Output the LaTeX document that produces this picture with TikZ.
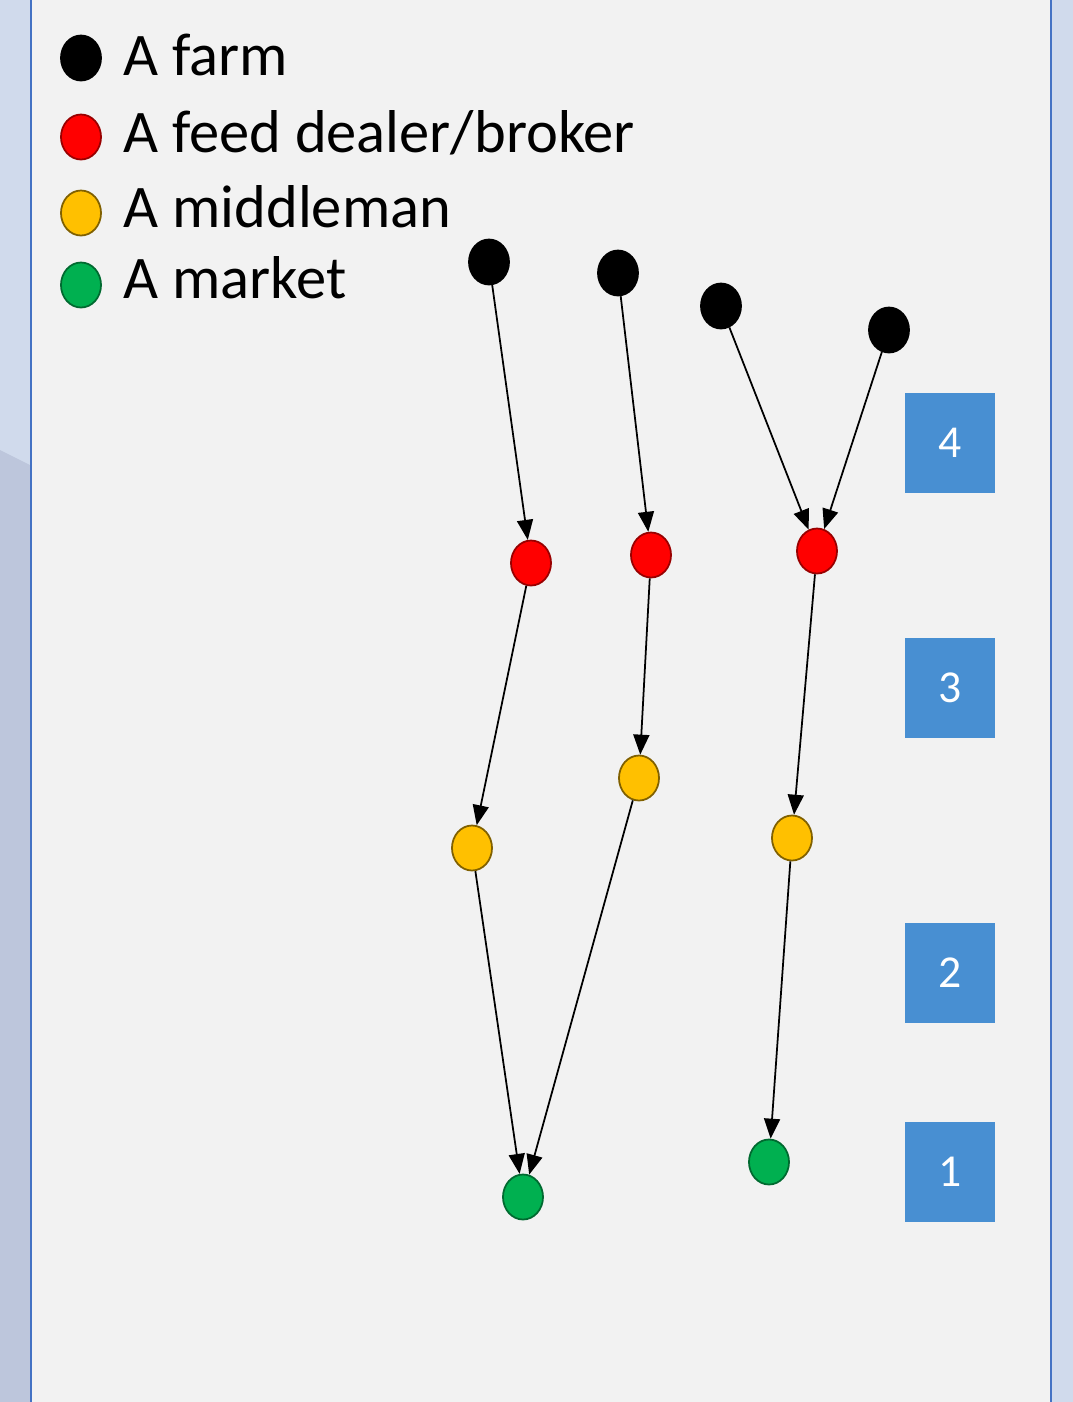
\documentclass[tikz,border=0pt]{standalone}
\usepackage{fontspec}
\setmainfont{Carlito}
\usetikzlibrary{arrows.meta,shapes.geometric}
\definecolor{panelgray}{RGB}{242,242,242}
\definecolor{sidelight}{RGB}{208,218,236}
\definecolor{sidedark}{RGB}{189,198,220}
\definecolor{edgeblue}{RGB}{68,114,196}
\definecolor{boxblue}{RGB}{72,143,210}
\definecolor{dealerred}{RGB}{255,0,0}
\definecolor{midyellow}{RGB}{255,192,0}
\definecolor{marketgreen}{RGB}{0,176,80}

\begin{document}
\begin{tikzpicture}[x=0.01cm,y=-0.01cm,
  dot/.style={ellipse,inner sep=0pt,minimum width=0.4cm,minimum height=0.45cm,line width=0.5pt},
  farm/.style={dot,fill=black,draw=black},
  dealer/.style={dot,fill=dealerred,draw=dealerred!60!black},
  middle/.style={dot,fill=midyellow,draw=midyellow!50!black},
  market/.style={dot,fill=marketgreen,draw=marketgreen!60!black},
  flow/.style={-{Triangle[length=0.2cm,width=0.16cm]},line width=0.5pt},
  level/.style={fill=boxblue,text=white,minimum width=0.9cm,minimum height=1cm,inner sep=0pt,font=\fontsize{13}{13}\selectfont},
  legend/.style={anchor=base west,inner sep=0pt,font=\fontsize{17.2}{17.2}\selectfont}]
\useasboundingbox (0,0) rectangle (1073,1402);
% background and side strips
\fill[panelgray] (0,0) rectangle (1073,1402);
\fill[sidelight] (0,0) rectangle (31,1402);
\fill[sidelight] (1051,0) rectangle (1073,1402);
\fill[sidedark] (0,450) -- (30,465) -- (30,1402) -- (0,1402) -- cycle;
\draw[edgeblue,line width=0.6pt] (31,0) -- (31,1402);
\draw[edgeblue,line width=0.6pt] (1051,0) -- (1051,1402);

% legend
\node[farm] (lfarm) at (81,58) {};
\node[legend] (tfarm) at (123,75) {A farm};
\node[dealer] (ldealer) at (81,137) {};
\node[legend] (tdealer) at (123,152) {A feed dealer/broker};
\node[middle] (lmiddle) at (81,213) {};
\node[legend] (tmiddle) at (123,227) {A middleman};
\node[market] (lmarket) at (81,285) {};
\node[legend] (tmarket) at (123,298) {A market};

% farms
\node[farm] (f1) at (489,262) {};
\node[farm] (f2) at (618,273) {};
\node[farm] (f3) at (721,306) {};
\node[farm] (f4) at (889,330) {};
% dealers
\node[dealer] (d1) at (531,563) {};
\node[dealer] (d2) at (651,555) {};
\node[dealer] (d3) at (817,551) {};
% middlemen
\node[middle] (m1) at (472,848) {};
\node[middle] (m2) at (639,778) {};
\node[middle] (m3) at (792,838) {};
% markets
\node[market] (k1) at (523,1197) {};
\node[market] (k2) at (769,1162) {};

\draw[flow] (f1) -- (d1);
\draw[flow] (f2) -- (d2);
\draw[flow] (f3) -- (d3);
\draw[flow] (f4) -- (d3);
\draw[flow] (d1) -- (m1);
\draw[flow] (d2) -- (m2);
\draw[flow] (d3) -- (m3);
\draw[flow] (m1) -- (k1);
\draw[flow] (m2) -- (k1);
\draw[flow] (m3) -- (k2);

% levels
\node[level] (l4) at (950,443) {4};
\node[level] (l3) at (950,688) {3};
\node[level] (l2) at (950,973) {2};
\node[level] (l1) at (950,1172) {1};
\end{tikzpicture}
\end{document}
